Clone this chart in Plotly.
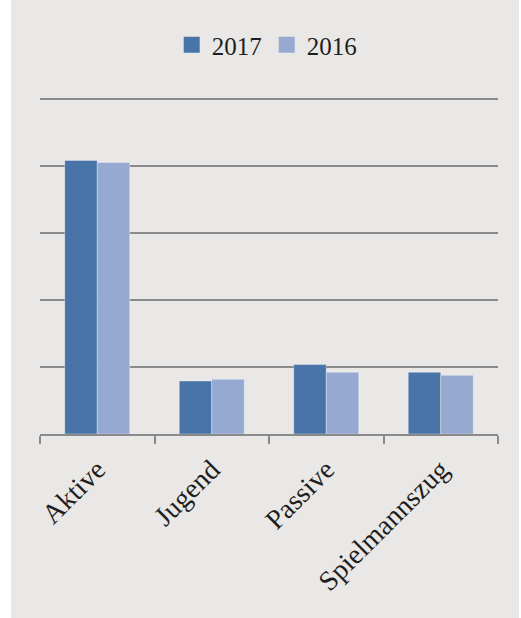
import plotly.graph_objects as go

categories = ["Aktive", "Jugend", "Passive", "Spielmannszug"]
values_2017 = [81.6, 15.8, 20.7, 18.4]
values_2016 = [81.0, 16.3, 18.4, 17.5]
series_names = ["2017", "2016"]
colors = ["#4874A8", "#95A9D1"]

FONT = "Liberation Serif"
GRID = "#8A8A8A"
BG = "#EAE8E6"

fig = go.Figure()
for name, vals, col in zip(series_names, [values_2017, values_2016], colors):
    fig.add_trace(go.Bar(
        x=categories, y=vals, name=name, showlegend=False,
        marker=dict(color=col, line=dict(color="rgba(255,255,255,0.35)", width=1)),
    ))
    # legend proxy with a larger square swatch
    fig.add_trace(go.Scatter(
        x=[None], y=[None], mode="markers", name=name,
        marker=dict(symbol="square", size=16, color=col),
    ))

fig.add_shape(type="rect", xref="paper", yref="paper",
              x0=-0.0633, x1=1.0459, y0=-0.7, y1=1.30,
              fillcolor=BG, line=dict(width=0), layer="below")

fig.update_layout(
    width=521, height=618,
    margin=dict(l=40, r=23, t=97, b=184),
    paper_bgcolor="white",
    plot_bgcolor="rgba(0,0,0,0)",
    barmode="group", bargap=0.432, bargroupgap=0,
    font=dict(family=FONT, size=25, color="#1E1E1E"),
    showlegend=True,
    legend=dict(orientation="h", x=0.495, xanchor="center", y=1.154, yanchor="middle",
                font=dict(family=FONT, size=25, color="#1E1E1E"),
                bgcolor="rgba(0,0,0,0)", itemwidth=30, traceorder="normal"),
    xaxis=dict(type="category", showline=True, linecolor=GRID, linewidth=2,
               ticks="outside", tickson="boundaries", ticklen=8, tickwidth=2,
               tickcolor=GRID, tickangle=-45, showgrid=False, ticklabelstandoff=6,
               tickfont=dict(family=FONT, size=28, color="#1E1E1E")),
    yaxis=dict(range=[0, 100.5], dtick=20, showgrid=True, gridcolor=GRID, gridwidth=2,
               showticklabels=False, zeroline=False, showline=False, ticks=""),
)

fig.write_html("out.html")
